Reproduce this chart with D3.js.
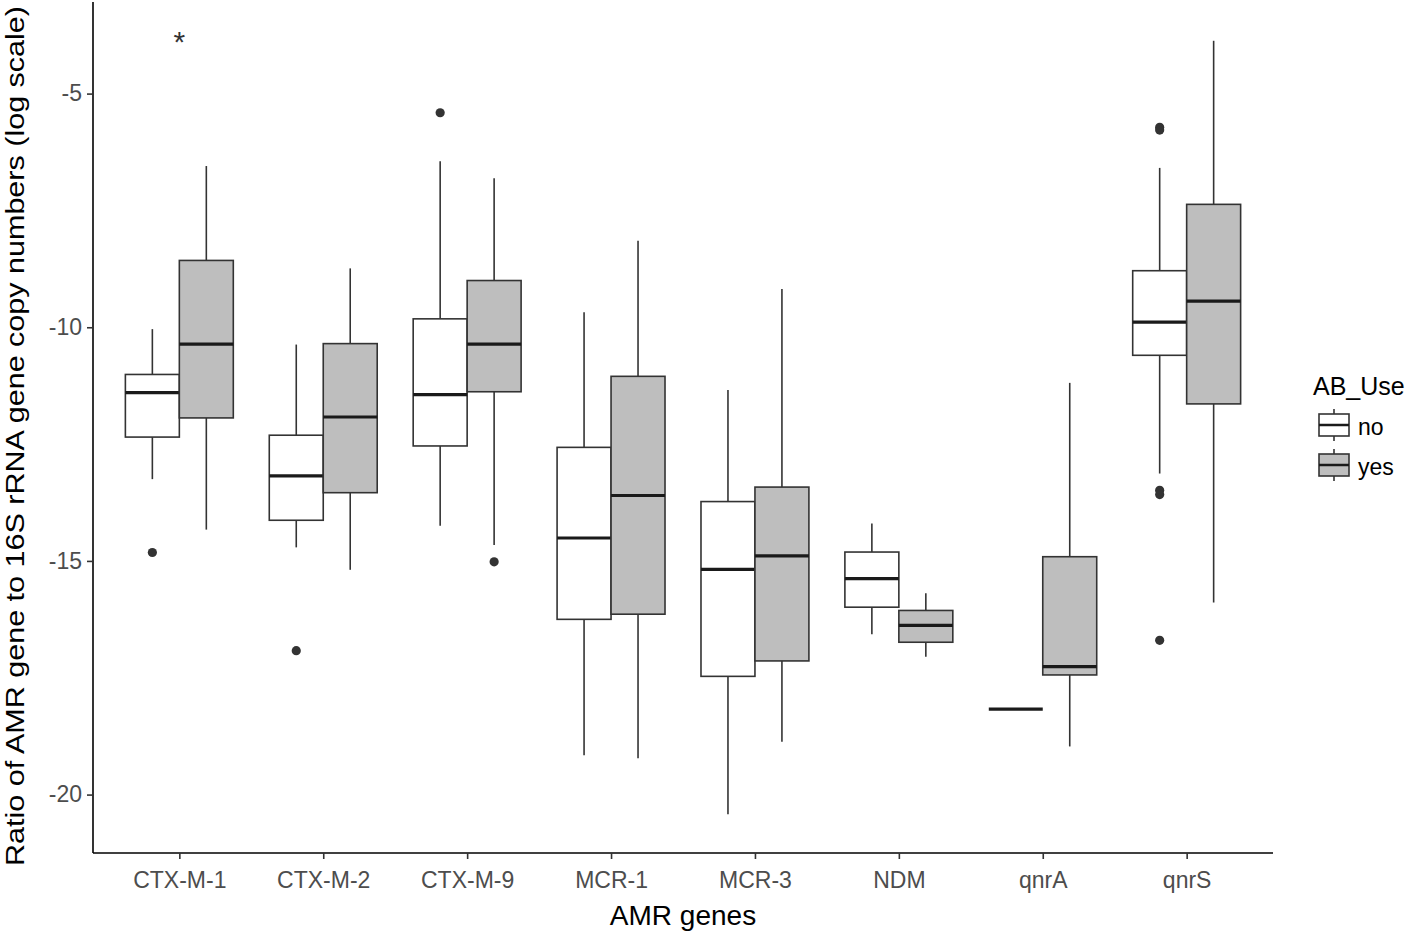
<!DOCTYPE html>
<html>
<head>
<meta charset="utf-8">
<script src="https://cdn.jsdelivr.net/npm/d3@7"></script>
<style>
  html, body { margin: 0; padding: 0; background: #fff; }
  svg { display: block; font-family: "Liberation Sans", Arial, sans-serif; }
</style>
</head>
<body>
<svg id="chart" width="1418" height="934"></svg>
<script>
// ---- data ----
const categories = ["CTX-M-1", "CTX-M-2", "CTX-M-9", "MCR-1", "MCR-3", "NDM", "qnrA", "qnrS"];
const groups = ["no", "yes"];
const yTicks = [-5, -10, -15, -20];

// "no" group statistics (log scale values)
const noLower  = [-13.25, -14.71, -14.25, -19.16, -20.42, -16.57, -18.17, -13.13];
const noQ1     = [-12.35, -14.13, -12.54, -16.25, -17.47, -15.99, -18.17, -10.60];
const noMedian = [-11.40, -13.18, -11.44, -14.51, -15.18, -15.38, -18.17, -9.89];
const noQ3     = [-11.01, -12.31, -9.82, -12.57, -13.73, -14.81, -18.17, -8.79];
const noUpper  = [-10.04, -10.37, -6.45, -9.68, -11.34, -14.20, -18.17, -6.59];

// "yes" group statistics
const yesLower  = [-14.33, -15.19, -14.66, -19.22, -18.87, -17.05, -18.97, -15.89];
const yesQ1     = [-11.94, -13.54, -11.38, -16.14, -17.14, -16.74, -17.44, -11.64];
const yesMedian = [-10.36, -11.92, -10.36, -13.60, -14.89, -16.38, -17.26, -9.44];
const yesQ3     = [-8.57, -10.35, -9.00, -11.05, -13.42, -16.06, -14.91, -7.37];
const yesUpper  = [-6.55, -8.74, -6.81, -8.15, -9.18, -15.69, -11.19, -3.87];

// outliers
const outlierCategory = ["CTX-M-1", "CTX-M-2", "CTX-M-9", "CTX-M-9", "qnrS", "qnrS", "qnrS", "qnrS", "qnrS"];
const outlierGroup    = ["no", "no", "no", "yes", "no", "no", "no", "no", "no"];
const outlierValue    = [-14.82, -16.92, -5.41, -15.02, -5.72, -5.78, -13.49, -13.58, -16.70];

// significance annotation
const annotCategory = ["CTX-M-1"];
const annotValue = [-3.8];
const annotText = ["*"];

const fills = { no: "#ffffff", yes: "#bebebe" };

// ---- layout ----
const svg = d3.select("#chart");
const mLeft = 93, mRight = 1273, mTop = 2, mBottom = 853;
const ink = "#333333";

const x = d3.scalePoint().domain(categories).range([mLeft, mRight]).padding(0.6);
const y = d3.scaleLinear().domain([-21.25, -3.04]).range([mBottom, mTop]);
const boxW = x.step() * 0.75 / 2;
const xg = d3.scaleBand().domain(groups).range([-boxW, boxW]);

const stats = { no: [noLower, noQ1, noMedian, noQ3, noUpper], yes: [yesLower, yesQ1, yesMedian, yesQ3, yesUpper] };
const boxes = [];
categories.forEach((c, i) => {
  groups.forEach(g => {
    const s = stats[g];
    boxes.push({ cat: c, grp: g, lo: s[0][i], q1: s[1][i], med: s[2][i], q3: s[3][i], hi: s[4][i] });
  });
});

const plot = svg.append("g");
const bg = plot.selectAll("g.box").data(boxes).join("g").attr("class", "box");

bg.each(function(d) {
  const g = d3.select(this);
  const x0 = x(d.cat) + xg(d.grp);
  const xc = x0 + xg.bandwidth() / 2;
  g.append("line").attr("x1", xc).attr("x2", xc).attr("y1", y(d.hi)).attr("y2", y(d.q3))
    .attr("stroke", ink).attr("stroke-width", 1.6);
  g.append("line").attr("x1", xc).attr("x2", xc).attr("y1", y(d.q1)).attr("y2", y(d.lo))
    .attr("stroke", ink).attr("stroke-width", 1.6);
  g.append("rect").attr("x", x0).attr("width", xg.bandwidth())
    .attr("y", y(d.q3)).attr("height", Math.max(0, y(d.q1) - y(d.q3)))
    .attr("fill", fills[d.grp]).attr("stroke", ink).attr("stroke-width", 1.6);
  g.append("line").attr("x1", x0).attr("x2", x0 + xg.bandwidth()).attr("y1", y(d.med)).attr("y2", y(d.med))
    .attr("stroke", "#1a1a1a").attr("stroke-width", 3.2);
});

// outliers
plot.selectAll("circle.out").data(outlierValue.map((v, i) => ({ v, c: outlierCategory[i], g: outlierGroup[i] })))
  .join("circle").attr("class", "out")
  .attr("cx", d => x(d.c) + xg(d.g) + xg.bandwidth() / 2)
  .attr("cy", d => y(d.v)).attr("r", 4.6).attr("fill", ink);

// annotation
plot.selectAll("text.annot").data(annotValue.map((v, i) => ({ v, c: annotCategory[i], t: annotText[i] })))
  .join("text").attr("class", "annot")
  .attr("x", d => x(d.c)).attr("y", d => y(d.v)).attr("dy", "0.47em")
  .attr("text-anchor", "middle").attr("font-size", 30).attr("fill", ink).text(d => d.t);

// axes
const yAxis = svg.append("g").attr("transform", `translate(${mLeft},0)`)
  .call(d3.axisLeft(y).tickValues(yTicks).tickSize(6).tickPadding(5).tickFormat(d => String(d)));
const xAxis = svg.append("g").attr("transform", `translate(0,${mBottom})`)
  .call(d3.axisBottom(x).tickSize(6).tickPadding(13));
[yAxis, xAxis].forEach(a => {
  a.select(".domain").attr("stroke", "#000").attr("stroke-width", 1.6);
  a.selectAll(".tick line").attr("stroke", ink).attr("stroke-width", 1.6);
  a.selectAll(".tick text").attr("fill", "#4d4d4d").attr("font-size", 23).attr("font-family", "Liberation Sans, Arial, sans-serif");
});
yAxis.select(".domain").attr("d", `M0,${mTop}V${mBottom}`);
xAxis.select(".domain").attr("d", `M${mLeft},0H${mRight}`);

// titles
svg.append("text").attr("x", (mLeft + mRight) / 2).attr("y", 925).attr("text-anchor", "middle")
  .attr("font-size", 28).attr("fill", "#000").text("AMR genes");
svg.append("text").attr("transform", `translate(24,436) rotate(-90)`)
  .attr("text-anchor", "middle").attr("font-size", 26).attr("fill", "#000")
  .attr("textLength", 860).attr("lengthAdjust", "spacingAndGlyphs")
  .text("Ratio of AMR gene to 16S rRNA gene copy numbers (log scale)");

// legend
const lg = svg.append("g");
lg.append("text").attr("x", 1313).attr("y", 395).attr("font-size", 25).attr("fill", "#000").text("AB_Use");
groups.forEach((g, i) => {
  const cy = 425 + i * 40;
  const kx = 1319, kw = 30;
  lg.append("line").attr("x1", kx + kw / 2).attr("x2", kx + kw / 2).attr("y1", cy - 16).attr("y2", cy + 16)
    .attr("stroke", ink).attr("stroke-width", 1.6);
  lg.append("rect").attr("x", kx).attr("y", cy - 11).attr("width", kw).attr("height", 22)
    .attr("fill", fills[g]).attr("stroke", ink).attr("stroke-width", 1.6);
  lg.append("line").attr("x1", kx).attr("x2", kx + kw).attr("y1", cy).attr("y2", cy)
    .attr("stroke", "#1a1a1a").attr("stroke-width", 2.5);
  lg.append("text").attr("x", 1358).attr("y", cy + 10).attr("font-size", 23).attr("fill", "#000").text(g);
});
</script>
</body>
</html>
